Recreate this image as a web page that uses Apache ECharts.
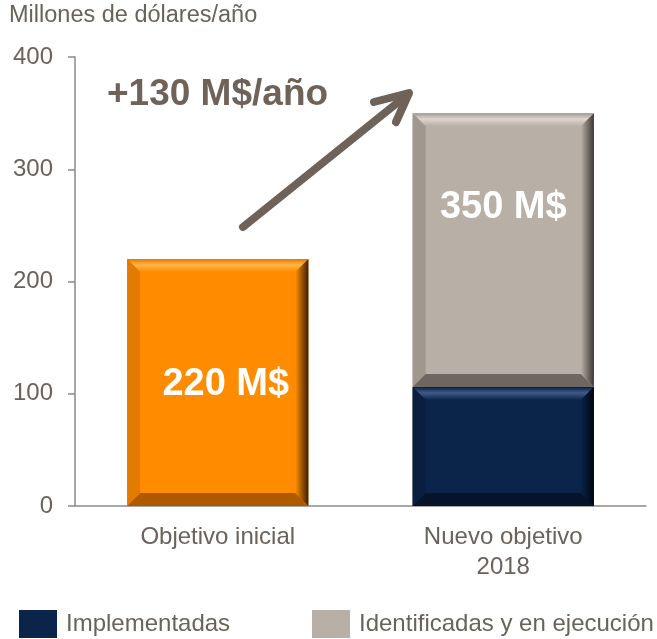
<!DOCTYPE html>
<html>
<head>
<meta charset="utf-8">
<script src="https://cdn.jsdelivr.net/npm/echarts@6/dist/echarts.min.js"></script>
<style>
  html, body { margin: 0; padding: 0; background: #fff; }
  #chart1 { width: 657px; height: 639px; }
</style>
</head>
<body>
<div id="chart1"></div>
<script>
// data
var categories = ['Objetivo inicial', 'Nuevo objetivo\n2018'];
var inicial = [220, null];
var implementadas = [null, 106];
var identificadas = [null, 244];
var totalLabels = ['220 M$', '350 M$'];
var yMin = 0, yMax = 400, yStep = 100;

var txtColor = '#6b625a';
var fontFam = '"Liberation Sans", Arial, sans-serif';

// bevel shades for each block
var shades = {
  inicial: { base: '#ff8c00', top: '#ffb447', left: '#e27b00', right: '#3a1f00', bottom: '#b05a00' },
  implementadas: { base: '#0b2449', top: '#3e5c88', left: '#0a1f40', right: '#00040c', bottom: '#06132a' },
  identificadas: { base: '#b8afa6', top: '#ddd6cf', left: '#a0978f', right: '#3c3733', bottom: '#6e6761' }
};

// running stack bases
var base = categories.map(function () { return 0; });
function stackUp(values) {
  var out = [];
  values.forEach(function (v, i) {
    if (v == null) return;
    out.push([i, base[i], base[i] + v]);
    base[i] += v;
  });
  return out;
}
var dInicial = stackUp(inicial);
base = categories.map(function () { return 0; });
var dImpl = stackUp(implementadas);
var dIdent = stackUp(identificadas);

function bevelItem(sh, labelPos) {
  return function (params, api) {
    var i = api.value(0);
    var p0 = api.coord([i, api.value(1)]);
    var p1 = api.coord([i, api.value(2)]);
    var w = api.size([1, 0])[0] * 0.635;
    var l = p0[0] - w / 2, r = l + w, t = p1[1], b = p0[1];
    var bv = Math.min(13, (b - t) / 2);
    var kids = [
      { type: 'rect', shape: { x: l, y: t, width: w, height: b - t }, style: { fill: sh.base } },
      { type: 'polygon', shape: { points: [[l, t], [r, t], [r - bv, t + bv], [l + bv, t + bv]] },
        style: { fill: { type: 'linear', x: 0, y: 0, x2: 0, y2: 1, colorStops: [
          { offset: 0, color: sh.left }, { offset: 0.45, color: sh.top }, { offset: 1, color: sh.base }] } } },
      { type: 'polygon', shape: { points: [[l, t], [l + bv, t + bv], [l + bv, b - bv], [l, b]] },
        style: { fill: sh.left } },
      { type: 'polygon', shape: { points: [[l, b], [l + bv, b - bv], [r - bv, b - bv], [r, b]] },
        style: { fill: sh.bottom } },
      { type: 'polygon', shape: { points: [[r, t], [r, b], [r - bv, b - bv], [r - bv, t + bv]] },
        style: { fill: { type: 'linear', x: 0, y: 0, x2: 1, y2: 0, colorStops: [
          { offset: 0, color: sh.base }, { offset: 1, color: sh.right }] } } }
    ];
    if (labelPos) {
      var ty = labelPos === 'middle' ? (t + b) / 2 + 2 : t + 94;
      var tx = labelPos === 'middle' ? (l + r) / 2 + 8 : (l + r) / 2;
      kids.push({ type: 'text', style: { text: totalLabels[i], x: tx, y: ty, fill: '#ffffff',
        font: 'bold 38px ' + fontFam, align: 'center', verticalAlign: 'middle' } });
    }
    return { type: 'group', children: kids };
  };
}

var legendText = { color: txtColor, fontSize: 24, fontFamily: fontFam, padding: [0, 0, 0, 4] };

var myChart = echarts.init(document.getElementById('chart1'));
var option = {
  animation: false,
  grid: { left: 75, right: 11, top: 57, bottom: 133 },
  legend: [
    { data: ['Implementadas'], left: 14, top: 605, icon: 'rect',
      itemWidth: 38, itemHeight: 28, textStyle: legendText },
    { data: ['Identificadas y en ejecución'], left: 307, top: 605, icon: 'rect',
      itemWidth: 38, itemHeight: 28, textStyle: legendText }
  ],
  xAxis: {
    type: 'category', data: categories,
    axisLine: { lineStyle: { color: '#8a8a8a', width: 1.5 } },
    axisTick: { length: 10, lineStyle: { color: '#8a8a8a', width: 1.5 } },
    axisLabel: { color: txtColor, fontSize: 24, fontFamily: fontFam, margin: 16, lineHeight: 30 }
  },
  yAxis: {
    type: 'value', min: yMin, max: yMax, interval: yStep,
    splitLine: { show: false },
    axisLine: { show: true, lineStyle: { color: '#8a8a8a', width: 1.5 } },
    axisTick: { show: true, length: 7, lineStyle: { color: '#8a8a8a', width: 1.5 } },
    axisLabel: { color: txtColor, fontSize: 24, fontFamily: fontFam, margin: 22 }
  },
  series: [
    { name: 'Objetivo inicial', type: 'custom', renderItem: bevelItem(shades.inicial, 'middle'),
      itemStyle: { color: shades.inicial.base }, encode: { x: 0, y: [1, 2] }, data: dInicial },
    { name: 'Implementadas', type: 'custom', renderItem: bevelItem(shades.implementadas, null),
      itemStyle: { color: shades.implementadas.base }, encode: { x: 0, y: [1, 2] }, data: dImpl },
    { name: 'Identificadas y en ejecución', type: 'custom', renderItem: bevelItem(shades.identificadas, 'top'),
      itemStyle: { color: shades.identificadas.base }, encode: { x: 0, y: [1, 2] }, data: dIdent }
  ],
  graphic: [
    { type: 'text', left: 9, top: 4,
      style: { text: 'Millones de dólares/año', fill: txtColor, font: '23.5px ' + fontFam } },
    { type: 'text', left: 107, top: 76,
      style: { text: '+130 M$/año', fill: '#6e6259', font: 'bold 37px ' + fontFam } },
    { type: 'line', shape: { x1: 243, y1: 227, x2: 407, y2: 95 },
      style: { stroke: '#6e6259', lineWidth: 8, lineCap: 'round' } },
    { type: 'polyline', shape: { points: [[374, 102], [409, 93], [396, 122]] },
      style: { stroke: '#6e6259', lineWidth: 8, lineCap: 'round', lineJoin: 'round', fill: null } }
  ]
};
myChart.setOption(option);
</script>
</body>
</html>
